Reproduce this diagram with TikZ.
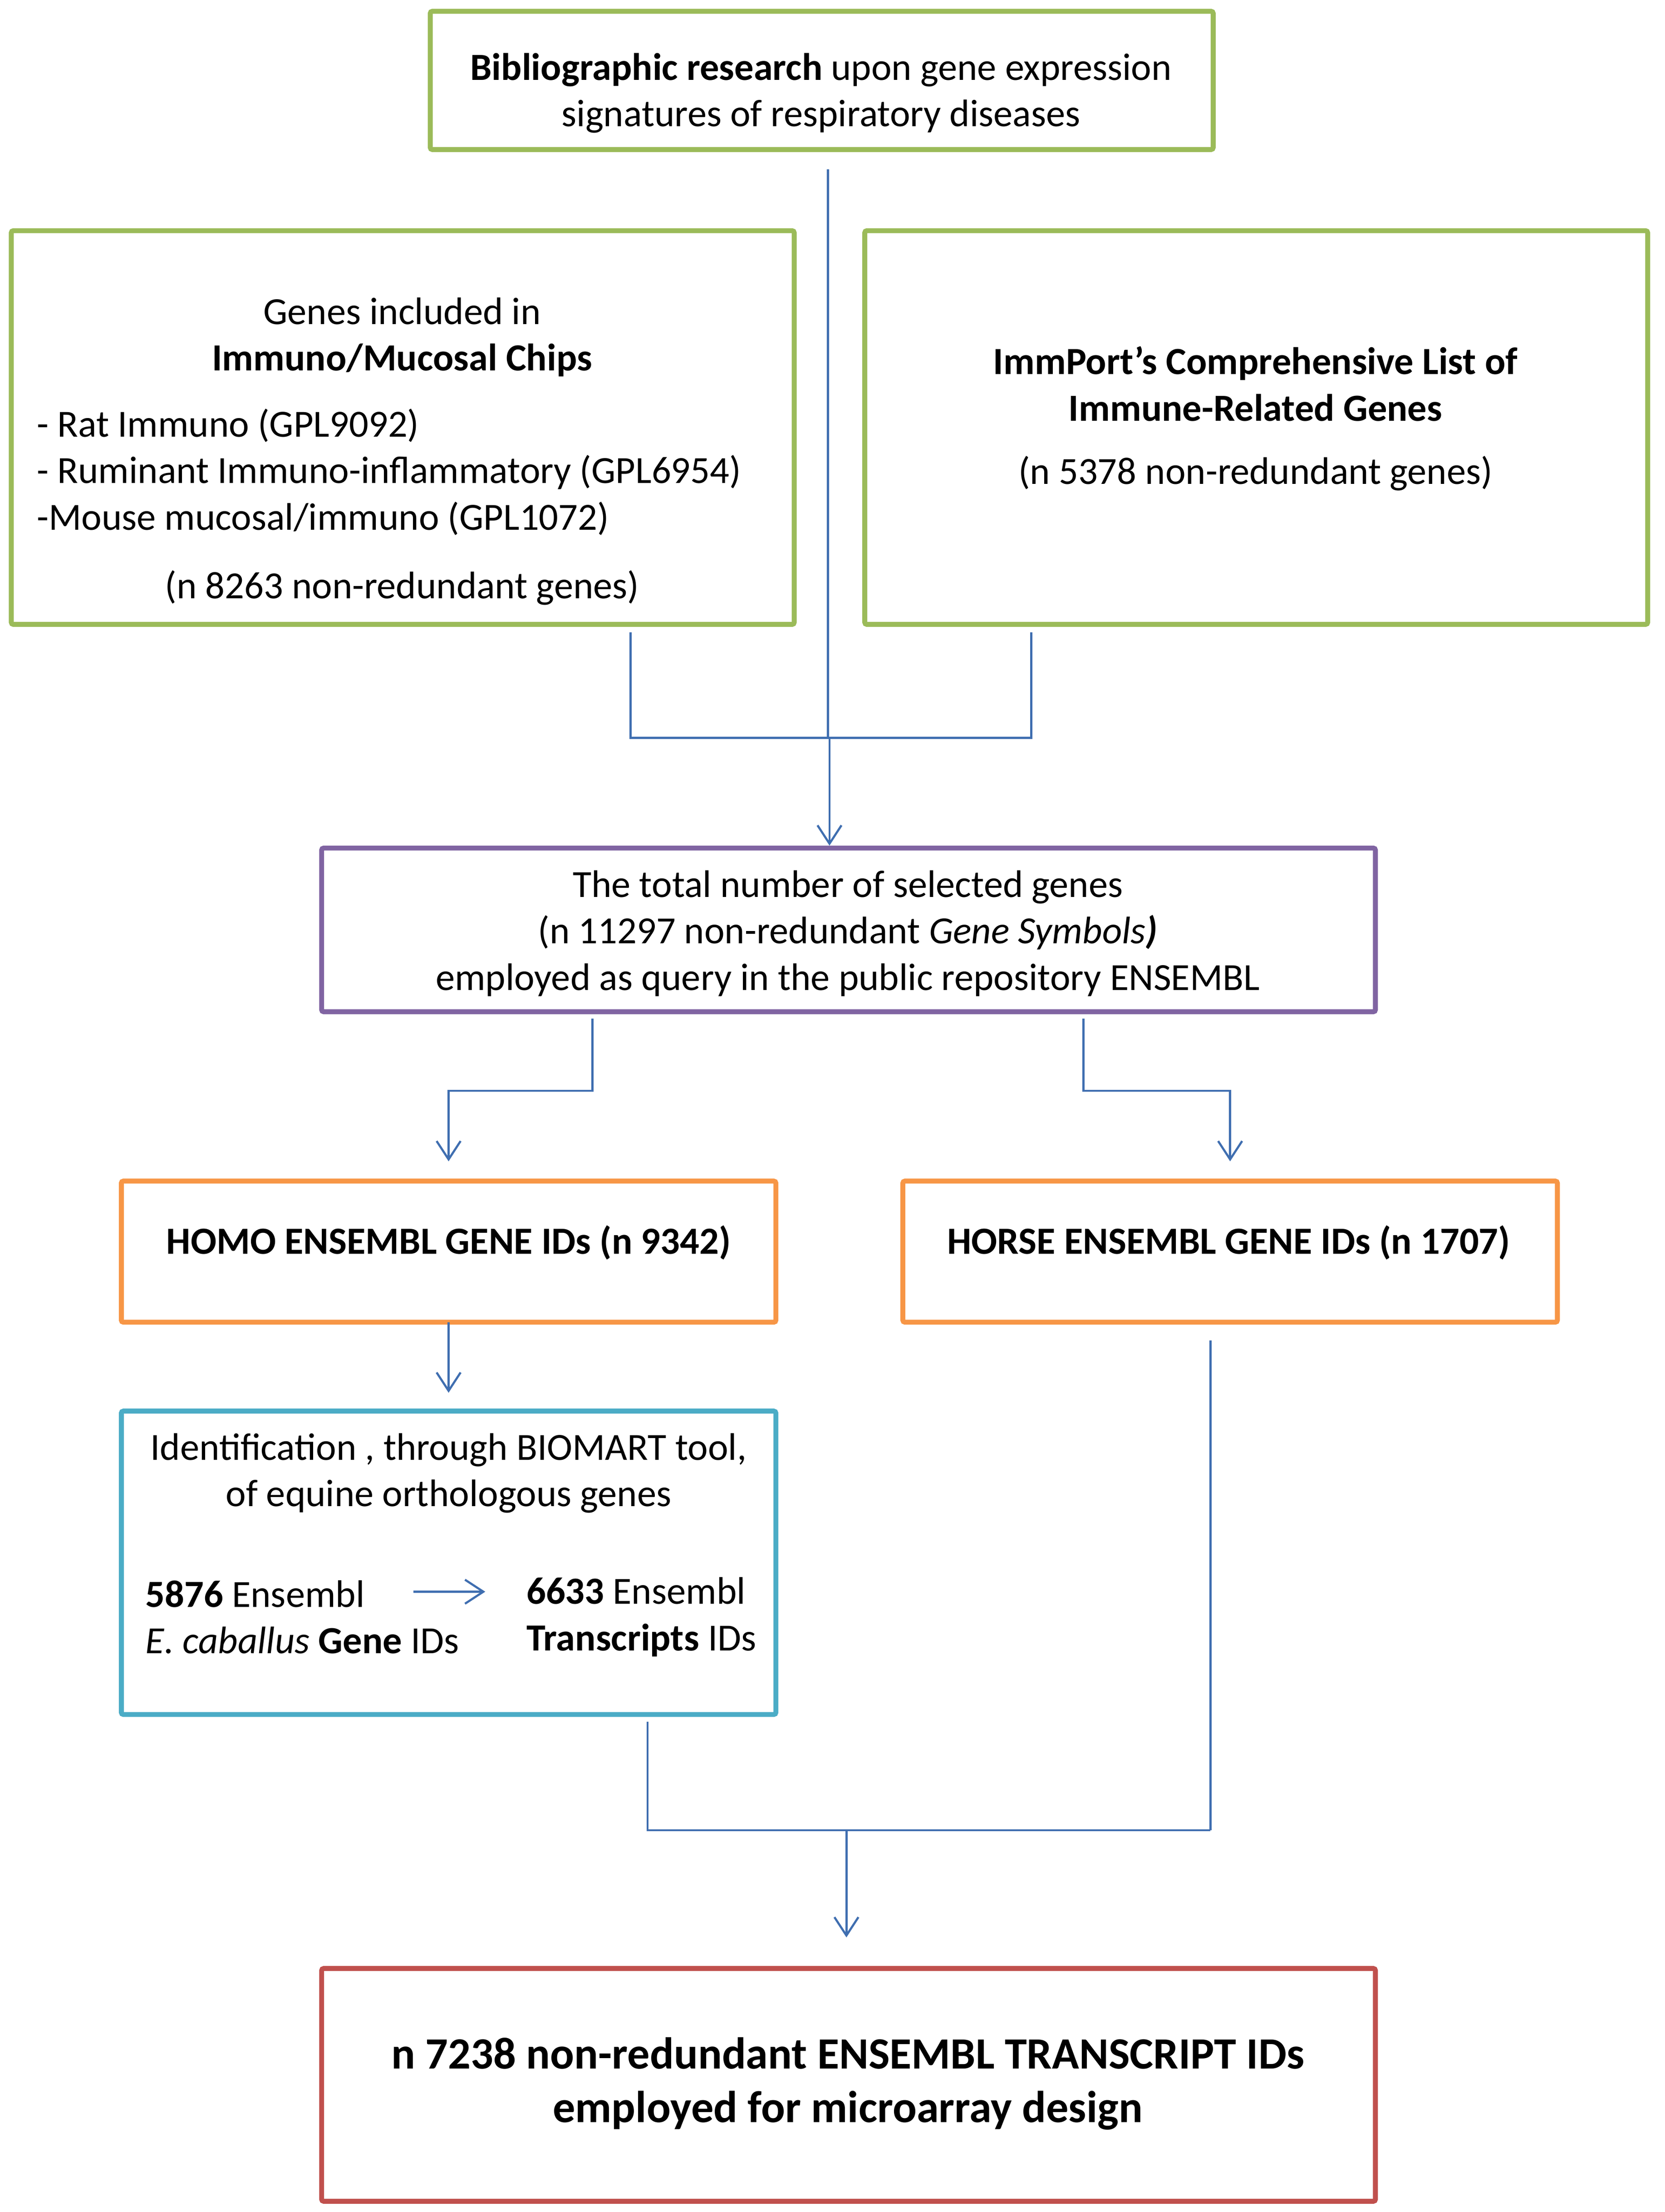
\documentclass[tikz,border=0pt]{standalone}
\usepackage{fontspec}
\setmainfont{Carlito}
\usetikzlibrary{arrows.meta}
\definecolor{cgreen}{HTML}{9BBB59}
\definecolor{cpurple}{HTML}{8064A2}
\definecolor{corange}{HTML}{F79646}
\definecolor{cblue}{HTML}{4BACC6}
\definecolor{cred}{HTML}{C0504D}
\definecolor{cline}{HTML}{3F6EB0}
\begin{document}
\begin{tikzpicture}[x=1pt,y=-1pt,
  box/.style={draw, line width=3.5pt, rounded corners=1.5pt, inner sep=0pt, fill=white},
  txt/.style={inner sep=0pt, font=\fontsize{27.2}{33}\selectfont, align=center},
  btxt/.style={txt, font=\fontsize{27.2}{33}\selectfont\bfseries},
  bigtxt/.style={inner sep=0pt, font=\fontsize{31.7}{38}\selectfont\bfseries, align=center},
  conn/.style={draw=cline, line width=1.5pt},
  arr/.style={conn, -{Straight Barb[length=13pt,width=17pt,line width=1.5pt]}}
]
\useasboundingbox (0,0) rectangle (1180,1567.6);
\fill[white] (0,0) rectangle (1180,1567.6);

% boxes
\node[box, draw=cgreen, minimum width=555pt, minimum height=98pt] (top) at (582.5,57) {};
\node[box, draw=cgreen, minimum width=555pt, minimum height=279pt] (gl) at (285.5,303) {};
\node[box, draw=cgreen, minimum width=555pt, minimum height=279pt] (gr) at (890.5,303) {};
\node[box, draw=cpurple, minimum width=747pt, minimum height=116pt] (pu) at (601.5,659) {};
\node[box, draw=corange, minimum width=464pt, minimum height=100pt] (ol) at (318,887) {};
\node[box, draw=corange, minimum width=464pt, minimum height=100pt] (or) at (872,887) {};
\node[box, draw=cblue, minimum width=464pt, minimum height=215pt] (bl) at (318,1107.5) {};
\node[box, draw=cred, minimum width=747pt, minimum height=165pt] (rd) at (601.5,1477.5) {};

% texts
\node[txt] (t1) at (582,66) {\textbf{Bibliographic research} upon gene expression\\signatures of respiratory diseases};
\node[txt] (gl1) at (285,239) {Genes included in\\\textbf{Immuno/Mucosal Chips}};
\node[txt, align=left, anchor=west] (gl2) at (26,334.5) {- Rat Immuno (GPL9092)\\- Ruminant Immuno-inflammatory (GPL6954)\\-Mouse mucosal/immuno (GPL1072)};
\node[txt] (gl3) at (285,416.5) {(n 8263 non-redundant genes)};
\node[btxt] (gr1) at (890,272) {ImmPort’s Comprehensive List of\\Immune-Related Genes};
\node[txt] (gr2) at (890,335.5) {(n 5378 non-redundant genes)};
\node[txt] (p1) at (601,661.5) {The total number of selected genes\\(n 11297 non-redundant \textit{Gene Symbols}\textbf{\textit{)}}\\employed as query in the public repository ENSEMBL};
\node[btxt] (o1) at (318,880.5) {HOMO ENSEMBL GENE IDs (n 9342)};
\node[btxt] (o2) at (871,880.5) {HORSE ENSEMBL GENE IDs (n 1707)};
\node[txt] (b1) at (318,1044) {Identification , through BIOMART tool,\\of equine orthologous genes};
\node[txt, align=left, anchor=west] (b2) at (103,1146) {\textbf{5876} Ensembl\\\textit{E. caballus} \textbf{Gene} IDs};
\node[txt, align=left, anchor=west] (b3) at (373,1146) {\textbf{6633} Ensembl\\\textbf{Transcripts} IDs};
\node[bigtxt] (r1) at (601,1476.5) {n 7238 non-redundant ENSEMBL TRANSCRIPT IDs\\employed for microarray design};

% connector points
\coordinate (c0) at (587,120);
\coordinate (j1) at (588,523);
\coordinate (cl) at (447,448);
\coordinate (cr) at (731,448);
\coordinate (pl) at (420,722);
\coordinate (pr) at (768,722);
\coordinate (ao) at (318,823);
\coordinate (ar) at (872,823);
\coordinate (ob) at (318,937);
\coordinate (ab) at (318,987);
\coordinate (hs) at (858,950);
\coordinate (bs) at (459,1220);
\coordinate (j2) at (600,1297);
\coordinate (ae) at (600,1373);
\coordinate (ia) at (293,1128);
\coordinate (ib) at (344,1128);

\draw[conn] (c0) -- (c0 |- j1);
\draw[conn] (cl) -- (cl |- j1) -- (cr |- j1) -- (cr);
\draw[arr] (j1) -- (j1 |- pu.north);
\draw[arr] (pl) -- ++(0,51) -| (ao);
\draw[arr] (pr) -- ++(0,51) -| (ar);
\draw[arr] (ob) -- (ab);
\draw[conn] (hs) -- (hs |- j2);
\draw[conn] (bs) -- (bs |- j2) -- (hs |- j2);
\draw[arr] (j2) -- (ae);
\draw[arr] (ia) -- (ib);
\end{tikzpicture}
\end{document}
